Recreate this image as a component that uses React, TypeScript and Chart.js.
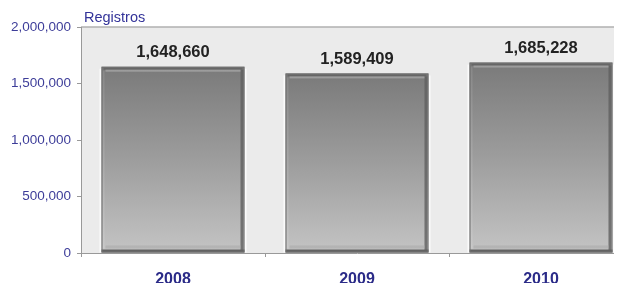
import React, { useEffect, useRef } from "react";
import { Chart, registerables } from "chart.js";

Chart.register(...registerables);

const categories = ["2008", "2009", "2010"];
const registros = [1648660, 1589409, 1685228];
const yTicks = [0, 500000, 1000000, 1500000, 2000000];
const axisTitle = "Registros";

const FONT = "'Liberation Sans', Arial, sans-serif";
const fmt = (v: number) => v.toLocaleString("en-US");

const bgPlugin = {
  id: "plotBg",
  beforeDraw(chart: any) {
    const { ctx, chartArea: a } = chart;
    ctx.save();
    ctx.fillStyle = "#ebebeb";
    ctx.fillRect(a.left, a.top, a.right - a.left, a.bottom - a.top);
    ctx.strokeStyle = "#b0b0b0";
    ctx.lineWidth = 1.5;
    ctx.beginPath();
    ctx.moveTo(a.left, a.top);
    ctx.lineTo(a.right, a.top);
    ctx.stroke();
    ctx.fillStyle = "#333399";
    ctx.font = `14.5px ${FONT}`;
    ctx.textBaseline = "middle";
    ctx.textAlign = "left";
    ctx.fillText(axisTitle, a.left + 3, a.top - 9);
    ctx.restore();
  },
};

const bevelPlugin = {
  id: "bevel",
  afterDatasetsDraw(chart: any) {
    const { ctx } = chart;
    const meta = chart.getDatasetMeta(0);
    ctx.save();
    meta.data.forEach((bar: any, i: number) => {
      const l = bar.x - bar.width / 2;
      const r = bar.x + bar.width / 2;
      const t = bar.y;
      const b = bar.base;
      const h = b - t;
      // outer white highlights
      ctx.fillStyle = "rgba(255,255,255,0.8)";
      ctx.fillRect(l - 2, t + 2, 1.5, h - 2);
      ctx.fillRect(r + 0.5, t + 2, 1.5, h - 2);
      // left light strip
      const gl = ctx.createLinearGradient(0, t, 0, b);
      gl.addColorStop(0, "rgba(140,140,140,0.7)");
      gl.addColorStop(1, "rgba(205,205,205,0.7)");
      ctx.fillStyle = gl;
      ctx.fillRect(l + 1, t + 4, 2, h - 8);
      // right dark strip
      ctx.fillStyle = "rgba(95,95,95,0.8)";
      ctx.fillRect(r - 4, t + 3, 3, h - 5);
      // top highlight
      ctx.fillStyle = "rgba(100,100,100,0.9)";
      ctx.fillRect(l + 2, t + 1, bar.width - 4, 2);
      ctx.fillStyle = "rgba(165,165,165,0.8)";
      ctx.fillRect(l + 4, t + 3, bar.width - 8, 2);
      // bottom band
      ctx.fillStyle = "rgba(170,170,170,0.6)";
      ctx.fillRect(l + 4, b - 7, bar.width - 8, 3);
      ctx.fillStyle = "#626262";
      ctx.fillRect(l, b - 3, bar.width, 3);
      // outline
      ctx.strokeStyle = "#707070";
      ctx.lineWidth = 1;
      ctx.strokeRect(l + 0.5, t + 0.5, bar.width - 1, h - 1);
      // value label
      ctx.fillStyle = "#222222";
      ctx.font = `bold 16.5px ${FONT}`;
      ctx.textAlign = "center";
      ctx.textBaseline = "middle";
      ctx.fillText(fmt(registros[i]), bar.x, t - 14);
    });
    ctx.restore();
  },
};

export default function App() {
  const ref = useRef<HTMLCanvasElement>(null);
  useEffect(() => {
    if (!ref.current) return;
    const chart = new Chart(ref.current, {
      type: "bar",
      data: {
        labels: categories,
        datasets: [
          {
            data: registros,
            backgroundColor: (c: any) => {
              const ch = c.chart;
              const a = ch.chartArea;
              if (!a) return "#999";
              const v = c.raw ?? 0;
              const top = ch.scales.y.getPixelForValue(v);
              const g = ch.ctx.createLinearGradient(0, top, 0, a.bottom);
              g.addColorStop(0, "#7a7a7a");
              g.addColorStop(0.5, "#9d9d9d");
              g.addColorStop(1, "#c4c4c4");
              return g;
            },
            borderWidth: 0,
            categoryPercentage: 1,
            barPercentage: 0.777,
          },
        ],
      },
      plugins: [bgPlugin, bevelPlugin],
      options: {
        responsive: false,
        animation: false,
        layout: { padding: { top: 19, right: 15, left: 0, bottom: 0 } },
        plugins: { legend: { display: false }, tooltip: { enabled: false } },
        scales: {
          x: {
            grid: {
              offset: true,
              drawOnChartArea: false,
              tickLength: 4,
              color: "#999999",
            },
            border: { color: "#999999" },
            ticks: {
              color: "#2b2b88",
              font: { family: FONT, size: 16, weight: "bold" },
              padding: 13,
            },
            afterFit: (s: any) => {
              s.height = 30;
            },
          },
          y: {
            min: 0,
            max: 2000000,
            afterBuildTicks: (s: any) => {
              s.ticks = yTicks.map((v) => ({ value: v }));
            },
            grid: { drawOnChartArea: false, tickLength: 4, color: "#999999" },
            border: { color: "#999999" },
            ticks: {
              color: "#3d3d99",
              font: { family: FONT, size: 13.5 },
              padding: 6,
              callback: (v: any) => fmt(Number(v)),
            },
            afterFit: (s: any) => {
              s.width = 73;
            },
          },
        },
      },
    });
    return () => chart.destroy();
  }, []);
  return (
    <div style={{ width: 608, height: 275, overflow: "hidden", position: "relative" }}>
      <canvas ref={ref} width={640} height={275} style={{ width: 640, height: 275 }} />
    </div>
  );
}
